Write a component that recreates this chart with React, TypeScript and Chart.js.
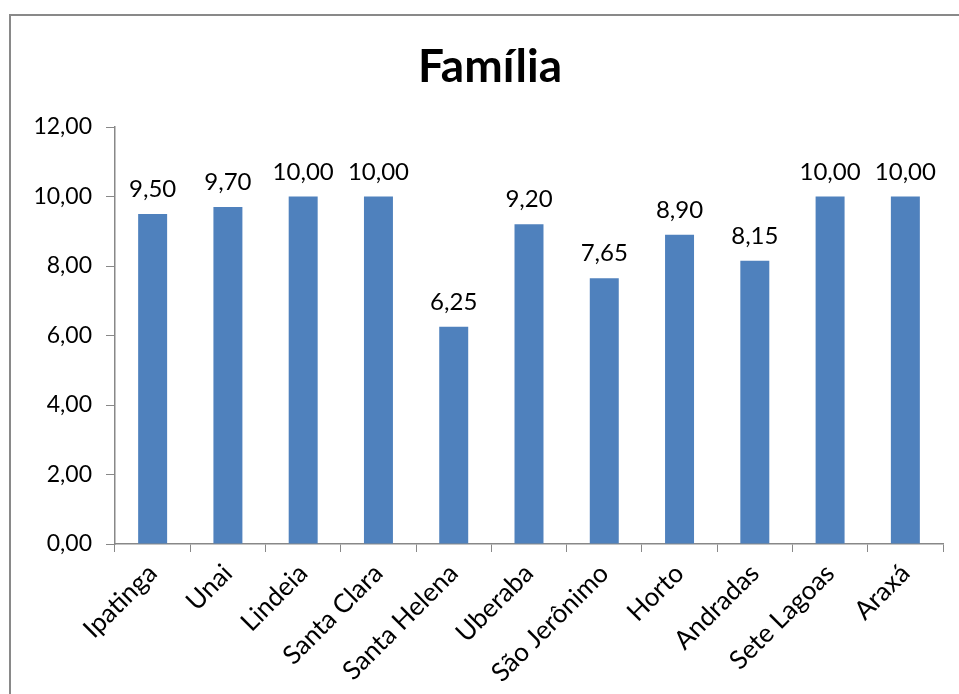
import React, { useEffect, useRef } from "react";
import { Chart, registerables } from "chart.js";

Chart.register(...registerables);

const categories = ["Ipatinga", "Unai", "Lindeia", "Santa Clara", "Santa Helena", "Uberaba", "São Jerônimo", "Horto", "Andradas", "Sete Lagoas", "Araxá"];
const values = [9.5, 9.7, 10.0, 10.0, 6.25, 9.2, 7.65, 8.9, 8.15, 10.0, 10.0];
const chartTitle = "Família";
const yMin = 0;
const yMax = 12;
const yStep = 2;

const FONT = "Lato, 'Open Sans', sans-serif";
const fmt = (v: number) => v.toFixed(2).replace(".", ",");

const titlePlugin = {
  id: "customTitle",
  afterDraw(chart: any) {
    const ctx = chart.ctx;
    ctx.save();
    ctx.font = `bold 46px ${FONT}`;
    ctx.fillStyle = "#000";
    ctx.textAlign = "center";
    ctx.textBaseline = "alphabetic";
    ctx.fillText(chartTitle, 490, 82);
    ctx.restore();
  },
};

const labelPlugin = {
  id: "barLabels",
  afterDatasetsDraw(chart: any) {
    const ctx = chart.ctx;
    const meta = chart.getDatasetMeta(0);
    ctx.save();
    ctx.font = `24px ${FONT}`;
    ctx.fillStyle = "#000";
    ctx.textAlign = "center";
    ctx.textBaseline = "alphabetic";
    meta.data.forEach((bar: any, i: number) => {
      ctx.fillText(fmt(values[i]), bar.x, bar.y - 17);
    });
    ctx.restore();
  },
};

export default function App() {
  const ref = useRef<HTMLCanvasElement | null>(null);
  useEffect(() => {
    if (!ref.current) return;
    const chart = new Chart(ref.current, {
      type: "bar",
      data: {
        labels: categories,
        datasets: [
          {
            data: values,
            backgroundColor: "#4F81BD",
            borderWidth: 0,
            barPercentage: 0.385,
            categoryPercentage: 1,
          },
        ],
      },
      options: {
        animation: false,
        responsive: false,
        devicePixelRatio: 1,
        layout: { padding: { top: 127, left: 0, right: 16, bottom: 0 } },
        plugins: { legend: { display: false }, title: { display: false }, tooltip: { enabled: false } },
        scales: {
          x: {
            grid: { display: true, drawOnChartArea: false, drawTicks: true, tickLength: 8, color: "#888888", offset: true },
            border: { display: true, color: "#888888", width: 1.5 },
            ticks: {
              font: { family: FONT, size: 26 },
              color: "#000",
              minRotation: 45,
              maxRotation: 45,
              autoSkip: false,
              padding: 6,
            },
            afterFit: (scale: any) => {
              scale.height = 150;
            },
          },
          y: {
            min: yMin,
            max: yMax,
            grid: { display: true, drawOnChartArea: false, drawTicks: true, tickLength: 9, color: "#888888" },
            border: { display: true, color: "#888888", width: 1.5 },
            ticks: {
              stepSize: yStep,
              font: { family: FONT, size: 23 },
              color: "#000",
              padding: 14,
              callback: (v: any) => fmt(Number(v)),
            },
            afterFit: (scale: any) => {
              scale.width = 115;
            },
          },
        },
      },
      plugins: [titlePlugin, labelPlugin],
    });
    return () => chart.destroy();
  }, []);

  return (
    <div style={{ position: "fixed", left: 0, top: 0, width: 959, height: 694, overflow: "hidden", background: "#fff" }}>
      <div style={{ position: "absolute", left: 9, top: 14, width: 2000, height: 2000, border: "2px solid #898989", boxSizing: "border-box" }} />
      <canvas ref={ref} width={959} height={694} style={{ position: "absolute", left: 0, top: 0, width: 959, height: 694 }} />
    </div>
  );
}
